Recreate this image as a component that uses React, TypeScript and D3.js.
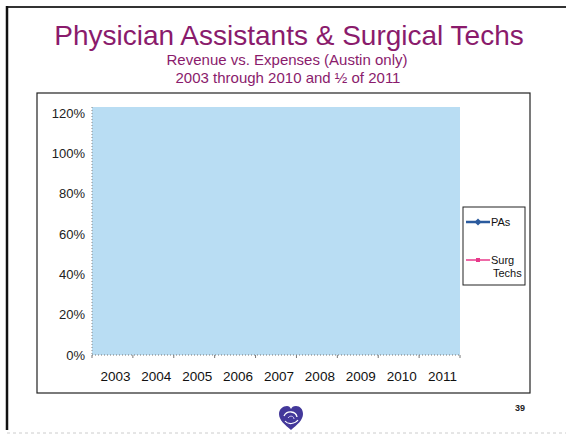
import React from "react";
import * as d3 from "d3";

const years = ["2003", "2004", "2005", "2006", "2007", "2008", "2009", "2010", "2011"];
// No data points are visible in the reference plot area
const paValues: (number | null)[] = [null, null, null, null, null, null, null, null, null];
const surgValues: (number | null)[] = [null, null, null, null, null, null, null, null, null];
const yTicks = [0, 0.2, 0.4, 0.6, 0.8, 1.0, 1.2];
const seriesNames = ["PAs", "Surg Techs"];

const W = 566;
const H = 434;
const plot = { left: 92, right: 460, top: 113, bottom: 355 };

export default function App() {
  const x = d3.scaleBand<string>().domain(years).range([plot.left, plot.right]).padding(0);
  const y = d3.scaleLinear().domain([0, 1.2]).range([plot.bottom, plot.top]);
  const fmt = d3.format(".0%");
  const line = d3
    .line<number | null>()
    .defined((d) => d != null)
    .x((_, i) => (x(years[i]) ?? 0) + x.bandwidth() / 2)
    .y((d) => y(d as number));

  const purple = "#8A1B6C";
  const paColor = "#2B5B9E";
  const surgColor = "#E8388A";
  const font = "Arial, 'Liberation Sans', sans-serif";

  const fillTop = y(1.2) - 6;

  return (
    <svg width={W} height={H} style={{ position: "absolute", left: 0, top: 0, background: "#fff" }} fontFamily={font}>
      {/* slide frame */}
      <line x1={7} y1={7} x2={566} y2={7} stroke="#333" strokeWidth={2} />
      <line x1={7} y1={6} x2={7} y2={430} stroke="#111" strokeWidth={2.5} />
      <line x1={7} y1={433} x2={566} y2={433} stroke="#ccc" strokeWidth={1} strokeDasharray="3,3" />

      {/* titles */}
      <text x={289} y={45} textAnchor="middle" fontSize={28} fill={purple}>
        Physician Assistants &amp; Surgical Techs
      </text>
      <text x={287} y={65} textAnchor="middle" fontSize={15} fill={purple}>
        Revenue vs. Expenses (Austin only)
      </text>
      <text x={288} y={83} textAnchor="middle" fontSize={15} fill={purple}>
        2003 through 2010 and ½ of 2011
      </text>

      {/* chart box */}
      <rect x={37} y={93} width={493} height={300} fill="#fff" stroke="#222" strokeWidth={1.2} />

      {/* plot area */}
      <rect x={plot.left} y={fillTop} width={plot.right - plot.left} height={plot.bottom - fillTop} fill="#B9DDF3" />
      <line x1={plot.left} y1={fillTop} x2={plot.left} y2={plot.bottom} stroke="#888" strokeDasharray="1,2" />
      <line x1={plot.left} y1={plot.bottom} x2={plot.right} y2={plot.bottom} stroke="#777" strokeDasharray="1,2" />
      {years.map((yr) => (
        <line key={"t" + yr} x1={x(yr)} x2={x(yr)} y1={plot.bottom} y2={plot.bottom + 3} stroke="#777" />
      ))}
      <line x1={plot.right} x2={plot.right} y1={plot.bottom} y2={plot.bottom + 3} stroke="#777" />

      {/* y axis labels */}
      {yTicks.map((t) => (
        <text key={t} x={85} y={y(t)} dy="0.35em" textAnchor="end" fontSize={13} fill="#222">
          {fmt(t)}
        </text>
      ))}
      {/* x axis labels */}
      {years.map((yr) => (
        <text key={yr} x={(x(yr) ?? 0) + x.bandwidth() / 2 + 3} y={376} dy="0.35em" textAnchor="middle" fontSize={13.5} fill="#111">
          {yr}
        </text>
      ))}

      {/* series (no visible data) */}
      <path d={line(paValues) ?? ""} fill="none" stroke={paColor} strokeWidth={2} />
      <path d={line(surgValues) ?? ""} fill="none" stroke={surgColor} strokeWidth={2} />

      {/* legend */}
      <rect x={463} y={207} width={62} height={78} fill="#fff" stroke="#222" strokeWidth={1} />
      <line x1={466} x2={490} y1={222} y2={222} stroke={paColor} strokeWidth={2.5} />
      <path d="M478,218.5 L481.5,222 L478,225.5 L474.5,222 Z" fill={paColor} />
      <text x={491} y={222} dy="0.35em" fontSize={11} fill="#111">{seriesNames[0]}</text>
      <line x1={466} x2={490} y1={260} y2={260} stroke={surgColor} strokeWidth={1.5} />
      <rect x={476} y={258} width={4} height={4} fill={surgColor} />
      <text x={491} y={260} dy="0.35em" fontSize={11} fill="#111">Surg</text>
      <text x={493} y={273} dy="0.35em" fontSize={11} fill="#111">Techs</text>

      {/* logo */}
      <g transform="translate(291,419)">
        <path d="M0,11 C-6,6 -12,1 -12,-5 C-12,-10 -8,-13 -4,-13 C-2,-13 -1,-12 0,-10 C1,-12 2,-13 5,-13 C9,-13 12,-10 12,-5 C12,1 6,6 0,11 Z" fill="#43389A" />
        <path d="M-7,-3 C-4,-9 5,-8 6,-2" fill="none" stroke="#fff" strokeWidth={1.3} />
        <path d="M-6,2 C-3,6 4,5 7,1" fill="none" stroke="#fff" strokeWidth={1.2} />
        <path d="M-3,-1 C-1,-4 3,-3 3,0" fill="none" stroke="#cfc8f0" strokeWidth={1} />
      </g>

      {/* page number */}
      <text x={520} y={411} textAnchor="middle" fontSize={9} fontWeight="bold" fill="#222">39</text>
    </svg>
  );
}
